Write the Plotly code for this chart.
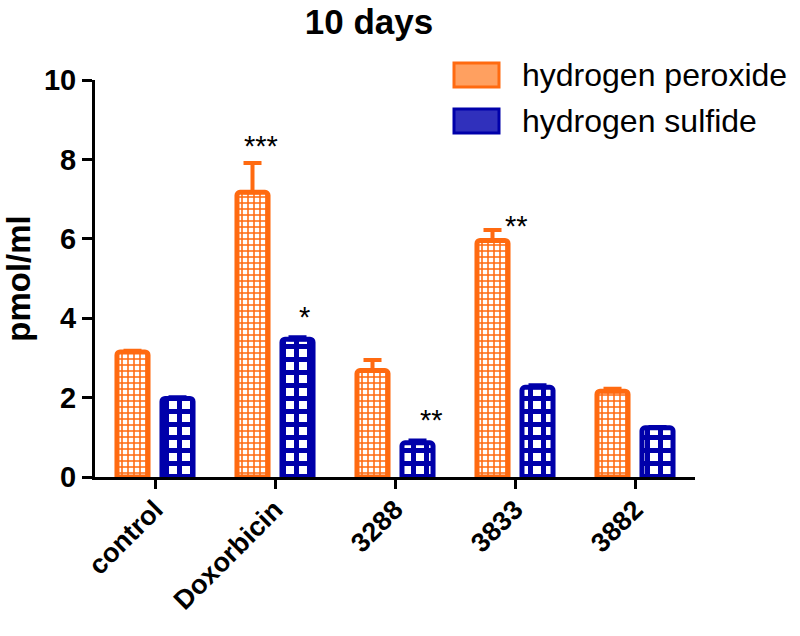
import plotly.graph_objects as go

categories = ["control", "Doxorbicin", "3288", "3833", "3882"]
series_names = ["hydrogen peroxide", "hydrogen sulfide"]
peroxide = [3.15, 7.17, 2.68, 5.96, 2.16]
peroxide_err = [0.03, 0.74, 0.27, 0.26, 0.06]
sulfide = [1.98, 3.47, 0.86, 2.26, 1.24]
sulfide_err = [0.03, 0.05, 0.06, 0.05, 0.02]
y_ticks = [0, 2, 4, 6, 8, 10]

# significance marks: (category index, series index, label)
sig_cat = [1, 1, 2, 3]
sig_series = [0, 1, 1, 0]
sig_label = ["***", "*", "**", "**"]

ORANGE = "#FF6A10"
BLUE = "#0000AA"
FONT = "Liberation Sans, Arial, sans-serif"

fig = go.Figure()
for name, vals, errs, col, psize, sol in [
    (series_names[0], peroxide, peroxide_err, ORANGE, 6, 0.45),
    (series_names[1], sulfide, sulfide_err, BLUE, 13, 0.62),
]:
    fig.add_trace(go.Bar(
        name=name, x=categories, y=vals,
        marker=dict(
            color="white",
            line=dict(color=col, width=5),
            cornerradius=3,
            pattern=dict(shape="+", fgcolor=col, bgcolor="white", fgopacity=1, size=psize,
                         solidity=sol, fillmode="overlay"),
        ),
        error_y=dict(type="data", symmetric=False, array=errs, arrayminus=[0] * len(errs),
                     color=col, thickness=4, width=9),
        showlegend=False,
    ))

series_vals = [peroxide, sulfide]
series_errs = [peroxide_err, sulfide_err]
extra_shift = [8, 7, 14, 24]
extra_yshift = [-3, 0, 0, -16]
for k in range(len(sig_cat)):
    c, s = sig_cat[k], sig_series[k]
    top = series_vals[s][c] + series_errs[s][c]
    fig.add_annotation(
        x=c, y=top, xref="x", yref="y",
        text=sig_label[k], showarrow=False,
        xshift=(-22.5 if s == 0 else 22.5) + extra_shift[k],
        yanchor="bottom", yshift=2 + extra_yshift[k],
        font=dict(family=FONT, size=29, color="black"),
    )

# legend (custom)
legend_cols = [ORANGE, BLUE]
legend_fill = ["#FFA060", "#3030BC"]
legend_y = [75, 121]
for i, nm in enumerate(series_names):
    yc = legend_y[i]
    fig.add_shape(type="rect", xref="paper", yref="paper",
                  x0=(454 - 95) / 600, x1=(499 - 95) / 600,
                  y0=(477 - (yc + 12)) / 397, y1=(477 - (yc - 12)) / 397,
                  line=dict(color=legend_cols[i], width=3), fillcolor=legend_fill[i])
    fig.add_annotation(x=(520 - 95) / 600, y=(477 - yc) / 397, xref="paper", yref="paper",
                       text=nm, showarrow=False, xanchor="left", yanchor="middle",
                       font=dict(family=FONT, size=32, color="black"))

fig.update_layout(
    width=800, height=636,
    margin=dict(l=95, r=105, t=80, b=159),
    paper_bgcolor="white", plot_bgcolor="white",
    barmode="group", bargap=0.25, bargroupgap=0.31,
    title=dict(text="<b>10 days</b>", x=369 / 800, xanchor="center", y=1 - 22 / 636, yanchor="middle",
               font=dict(family=FONT, size=35, color="black")),
    font=dict(family=FONT, color="black"),
)
fig.update_xaxes(
    type="category",
    range=[-0.5, 4.5], showline=True, linecolor="black", linewidth=3,
    ticks="outside", ticklen=9, tickwidth=3, tickcolor="black",
    tickangle=-45, tickfont=dict(family=FONT, size=27, color="black"),
    ticktext=[f"<b>{c}</b>" for c in categories], tickvals=categories,
    ticklabelstandoff=-6,
    showgrid=False, zeroline=False,
)
fig.update_yaxes(
    range=[0, 10], tickvals=y_ticks, ticktext=[f"<b>{t}</b>" for t in y_ticks],
    showline=True, linecolor="black", linewidth=3,
    ticks="outside", ticklen=10, tickwidth=3, tickcolor="black",
    tickfont=dict(family=FONT, size=29, color="black"),
    title=dict(text="<b>pmol/ml</b>", font=dict(family=FONT, size=33, color="black"), standoff=8),
    showgrid=False, zeroline=False,
)
fig.write_html("out.html", config={"displayModeBar": False},
               post_script="document.body.style.margin='0px';document.body.style.overflow='hidden';")
